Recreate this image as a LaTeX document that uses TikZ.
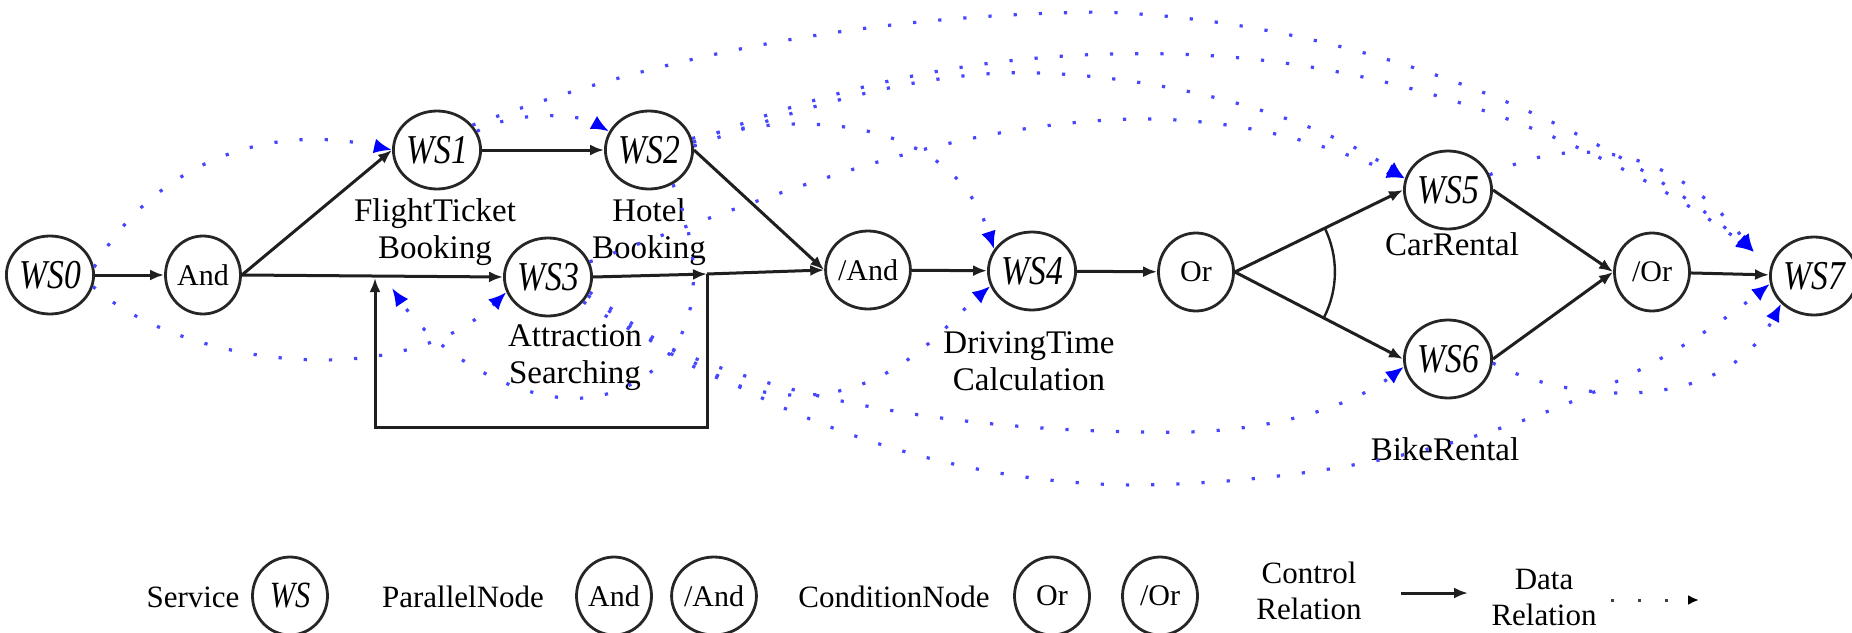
\documentclass[tikz,border=0pt]{standalone}
\usepackage{fontspec}
\usepackage{graphicx}
\setmainfont{Liberation Serif}
\usetikzlibrary{arrows.meta,shapes.geometric,calc}

% italic service label, slightly condensed
\newcommand\wslab[1]{\scalebox{0.82}[1]{\itshape WS#1}}

\begin{document}
\begin{tikzpicture}[x=1pt,y=-1pt,
  svc/.style={ellipse,draw=black!85,line width=2.8pt,minimum width=75pt,minimum height=78pt,inner sep=0pt,font=\fontsize{41}{41}\selectfont},
  gate/.style={svc,font=\fontsize{30}{30}\selectfont},
  lbl/.style={align=center,inner sep=0pt,font=\fontsize{33}{37}\selectfont},
  klbl/.style={align=center,inner sep=0pt,font=\fontsize{31}{36}\selectfont},
  ctrl/.style={draw=black!88,line width=3pt,-{Latex[length=14pt,width=11pt]}},
  dflow/.style={draw={rgb,255:red,70;green,70;blue,255},line width=3.2pt,dash pattern=on 3.2pt off 22pt,-{Latex[length=18pt,width=15pt,color=blue]}},
  kdflow/.style={draw=black!75,line width=3pt,dash pattern=on 3pt off 24pt,-{Latex[length=11pt,width=10pt,color=black]}},
]
\useasboundingbox (0,0) rectangle (1852,632);

% ---- services and gateways ----
\node[svc]  (ws0)  at (50,275)   {\wslab{0}};
\node[gate] (and)  at (203,275)  {And};
\node[svc]  (ws1)  at (437,150)  {\wslab{1}};
\node[svc]  (ws2)  at (649,150)  {\wslab{2}};
\node[svc]  (ws3)  at (548,277)  {\wslab{3}};
\node[gate] (jand) at (868,270)  {/And};
\node[svc]  (ws4)  at (1032,271) {\wslab{4}};
\node[gate] (or)   at (1196,272) {Or};
\node[svc]  (ws5)  at (1448,190) {\wslab{5}};
\node[svc]  (ws6)  at (1448,359) {\wslab{6}};
\node[gate] (jor)  at (1652,272) {/Or};
\node[svc]  (ws7)  at (1814,276) {\wslab{7}};

% ---- service names ----
\node[lbl] (n1) at (435,232)  {FlightTicket\\Booking};
\node[lbl] (n2) at (649,232)  {Hotel\\Booking};
\node[lbl] (n3) at (575,358)  {Attraction\\Searching};
\node[lbl] (n4) at (1029,361) {DrivingTime\\Calculation};
\node[lbl,anchor=base] (n5) at (1452,255) {CarRental};
\node[lbl,anchor=base] (n6) at (1445,460) {BikeRental};

% ---- loop helper points ----
\coordinate (J)  at (707,274);
\coordinate (Lr) at (707,427);
\coordinate (Ll) at (375,427);
\coordinate (Lt) at (375,278);
\coordinate (dl) at (392,288);
\coordinate (t7a) at (1754,252);

% ---- control relations ----
\draw[ctrl] (ws0) -- (and);
\draw[ctrl] (and.east) -- (ws1.west);
\draw[ctrl] (and.east) -- (ws3.west);
\draw[ctrl] (ws1) -- (ws2);
\draw[ctrl] (ws2.east) -- (jand.west);
\draw[ctrl] (ws3.east) -- (J);
\draw[ctrl] (J) -- (jand.west);
\draw[ctrl] (J) -- (Lr) -- (Ll) -- (Lt);
\draw[ctrl] (jand) -- (ws4);
\draw[ctrl] (ws4) -- (or);
\draw[ctrl] (or.east) -- (ws5.west);
\draw[ctrl] (or.east) -- (ws6.west);
\draw[ctrl] (ws5.east) -- (jor.west);
\draw[ctrl] (ws6.east) -- (jor.west);
\draw[ctrl] (jor) -- (ws7);
% exclusive-choice arc at the Or split
\draw[draw=black!88,line width=2.4pt] ($(or.east)+(-26:100)$) arc (-26:27:100);

% ---- data relations ----
\draw[dflow] (ws0.10) .. controls (150,170) and (260,120) .. (ws1.west);
\draw[dflow] (ws0.-15) .. controls (180,365) and (400,395) .. (ws3.200);
\draw[dflow] (ws1.25) .. controls (510,112) and (575,112) .. (ws2.155);
\draw[dflow] (ws1.35) .. controls (650,60) and (850,15) .. (1100,12) .. controls (1350,20) and (1600,120) .. (t7a);
\draw[dflow] (ws2.10) .. controls (850,80) and (1000,50) .. (1170,54) .. controls (1400,58) and (1620,150) .. (t7a);
\draw[dflow] (ws2.5) .. controls (850,90) and (950,70) .. (1040,73) .. controls (1180,78) and (1320,120) .. (ws5.165);
\draw[dflow] (ws2.15) .. controls (800,110) and (950,115) .. (ws4.150);
\draw[dflow] (ws3.20) .. controls (800,185) and (950,125) .. (1130,119) .. controls (1250,117) and (1340,150) .. (ws5.165);
\draw[dflow] (ws2.-55) .. controls (705,260) and (710,360) .. (610,393) .. controls (540,416) and (440,360) .. (dl);
\draw[dflow] (ws3.-25) .. controls (650,340) and (720,400) .. (810,395) .. controls (900,390) and (950,320) .. (ws4.200);
\draw[dflow] (ws3.-35) .. controls (700,380) and (900,430) .. (1150,432) .. controls (1280,436) and (1360,400) .. (ws6.190);
\draw[dflow] (ws3.-20) .. controls (700,380) and (900,485) .. (1140,485) .. controls (1450,480) and (1650,380) .. (ws7.190);
\draw[dflow] (ws6.-5) .. controls (1560,400) and (1720,420) .. (ws7.220);
\draw[dflow] (ws5.20) .. controls (1540,150) and (1650,120) .. (t7a);

% ---- legend ----
\node[klbl,anchor=base] (kS) at (193,607) {Service};
\node[svc]  (kws)  at (290,596)  {\fontsize{37}{37}\selectfont\scalebox{0.82}[1]{\itshape WS}};
\node[klbl,anchor=base] (kP) at (463,607) {ParallelNode};
\node[gate] (kand) at (614,596)  {And};
\node[gate] (kjand) at (714,596) {/And};
\node[klbl,anchor=base] (kC) at (894,607) {ConditionNode};
\node[gate] (kor)  at (1052,596) {Or};
\node[gate] (kjor) at (1160,596) {/Or};
\node[klbl] (kCR) at (1309,591) {Control\\Relation};
\coordinate (ca) at (1401,593);
\coordinate (cb) at (1468,593);
\draw[ctrl] (ca) -- (cb);
\node[klbl] (kDR) at (1544,597) {Data\\Relation};
\coordinate (da) at (1611,600);
\coordinate (db) at (1699,600);
\draw[kdflow] (da) -- (db);
\end{tikzpicture}
\end{document}
